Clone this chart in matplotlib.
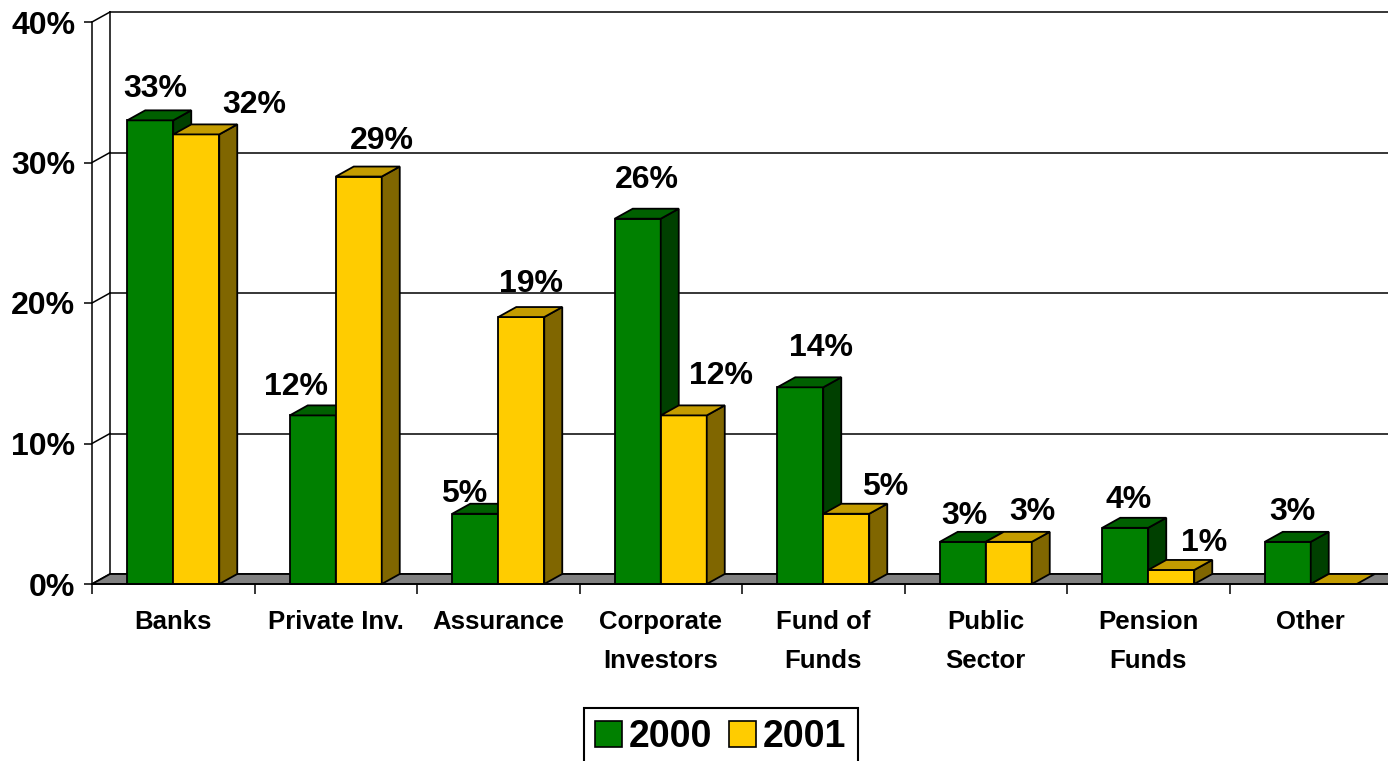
import matplotlib.pyplot as plt
from matplotlib.patches import Polygon, Rectangle, Patch

plt.rcParams['font.family'] = ['Liberation Sans', 'DejaVu Sans']
plt.rcParams['font.weight'] = 'bold'

categories = ['Banks', 'Private Inv.', 'Assurance', 'Corporate\nInvestors',
              'Fund of\nFunds', 'Public\nSector', 'Pension\nFunds', 'Other']
vals_2000 = [33, 12, 5, 26, 14, 3, 4, 3]
vals_2001 = [32, 29, 19, 12, 5, 3, 1, 0]
y_ticks = [0, 10, 20, 30, 40]

# label nudges in pixels (dx from bar centre, dy above bar top)
nudge_2000 = [(5, 23), (-17, 20), (-11, 12), (9, 31), (21, 31), (2, 18), (3, 20), (5, 22)]
nudge_2001 = [(58, 21), (23, 28), (10, 25), (37, 31), (39, 19), (24, 22), (33, 19), (0, 0)]

W, H = 1388, 761
fig = plt.figure(figsize=(W / 100, H / 100), dpi=100)
# front plane: x 92..1392 px, y 584 (0%) .. 22 (40%)
ax = fig.add_axes([92 / W, (H - 584) / H, 1300 / W, 562 / H])
n = len(categories)
ax.set_xlim(0, n)
ax.set_ylim(0, 40)

px_x = n / 1300.0
px_y = 40 / 562.0
ddx = 18 * px_x   # depth offset
ddy = 10 * px_y
bw = 46 * px_x    # bar width

green = ('#008000', '#006000', '#004000')
gold = ('#FFCC00', '#C49C00', '#806600')
lw = 1.3

# side wall, back wall and gridlines
for v in y_ticks:
    ax.plot([0, ddx], [v, v + ddy], color='black', lw=1.1, clip_on=False, zorder=1)
    ax.plot([ddx, n + ddx], [v + ddy, v + ddy], color='black', lw=1.1, clip_on=False, zorder=1)
ax.plot([ddx, ddx], [ddy, 40 + ddy], color='black', lw=1.1, clip_on=False, zorder=1)

# floor
ax.add_patch(Polygon([(0, 0), (ddx, ddy), (n + ddx, ddy), (n, 0)], closed=True,
                     facecolor='#808080', edgecolor='black', lw=lw, clip_on=False, zorder=2))


def bar3d(x, v, cols):
    if v > 0:
        ax.add_patch(Rectangle((x, 0), bw, v, facecolor=cols[0], edgecolor='black',
                               lw=lw, clip_on=False, zorder=3))
        ax.add_patch(Polygon([(x + bw, 0), (x + bw + ddx, ddy), (x + bw + ddx, v + ddy), (x + bw, v)],
                             closed=True, facecolor=cols[2], edgecolor='black', lw=lw,
                             clip_on=False, zorder=3))
    ax.add_patch(Polygon([(x, v), (x + ddx, v + ddy), (x + bw + ddx, v + ddy), (x + bw, v)],
                         closed=True, facecolor=cols[1], edgecolor='black', lw=lw,
                         clip_on=False, zorder=3))


for i in range(n):
    xg = i + 0.5 - bw
    xy = i + 0.5
    bar3d(xg, vals_2000[i], green)
    bar3d(xy, vals_2001[i], gold)
    for x, v, nd in [(xg, vals_2000[i], nudge_2000[i]), (xy, vals_2001[i], nudge_2001[i])]:
        if v == 0:
            continue
        ax.annotate(f'{v}%', (x + bw / 2, v), xytext=nd, textcoords='offset pixels',
                    ha='center', va='baseline', fontsize=23, fontweight='bold',
                    annotation_clip=False, zorder=5)

# axes
for s in ['top', 'right']:
    ax.spines[s].set_visible(False)
for s in ['left', 'bottom']:
    ax.spines[s].set_linewidth(1.1)
    ax.spines[s].set_zorder(4)
ax.set_facecolor('none')
ax.set_yticks(y_ticks)
ax.set_yticklabels([f'{v}%' for v in y_ticks], fontsize=23, fontweight='bold')
ax.tick_params(axis='y', direction='out', length=6, width=1.1, pad=6)
ax.set_xticks(range(n + 1))
ax.set_xticklabels([])
ax.tick_params(axis='x', which='major', direction='out', length=7, width=1.1)
ax.set_xticks([i + 0.5 for i in range(n)], minor=True)
ax.set_xticklabels(categories, minor=True, fontsize=18.5, fontweight='bold', linespacing=1.75)
ax.tick_params(axis='x', which='minor', length=0, pad=19)

handles = [Patch(facecolor=green[0], edgecolor='black', lw=1.2),
           Patch(facecolor=gold[0], edgecolor='black', lw=1.2)]
leg = fig.legend(handles, ['2000', '2001'], loc='upper center', ncol=2,
                 bbox_to_anchor=(721 / W, 1 - 708 / H), borderaxespad=0,
                 prop={'weight': 'bold', 'size': 27},
                 handlelength=0.7, handleheight=0.7, handletextpad=0.2,
                 columnspacing=0.45, borderpad=0.3, fancybox=False, framealpha=1)
leg.get_frame().set_edgecolor('black')
leg.get_frame().set_linewidth(1.5)

fig.savefig('out.png', dpi=100)
